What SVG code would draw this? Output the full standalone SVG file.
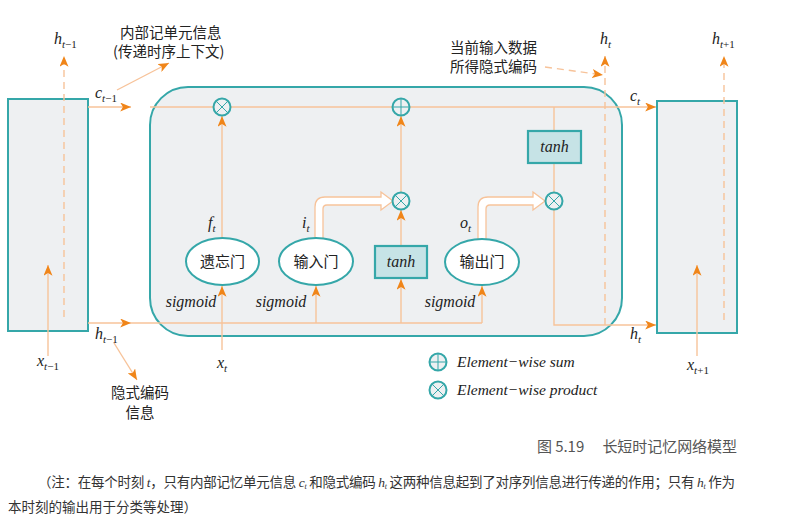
<svg xmlns="http://www.w3.org/2000/svg" width="798" height="524" viewBox="0 0 798 524">
<defs>
<marker id="ah" viewBox="0 0 12 10" refX="12" refY="5" markerWidth="11" markerHeight="9" orient="auto" markerUnits="userSpaceOnUse">
<path d="M0,0 L12,5 L0,10 L3,5 z" fill="#f08519"/>
</marker>
<style>
.box{fill:#eef0f2;stroke:#35a7a9;stroke-width:2}
.ln{fill:none;stroke:#f7c39a;stroke-width:1.4}
.dash{fill:none;stroke:#f7c39a;stroke-width:1.4;stroke-dasharray:7 5}
.hol{fill:#fff;stroke:#f7c39a;stroke-width:1.3}
.gate{fill:#fff;stroke:#35a7a9;stroke-width:2}
.tbox{fill:#c6e3e6;stroke:#35a7a9;stroke-width:2.2}
.op{fill:#eef0f2;stroke:#35a7a9;stroke-width:2}
.opx{stroke:#35a7a9;stroke-width:1}
.m{font-family:"Liberation Serif",serif;font-style:italic;font-size:16px;fill:#222}
.sub{font-size:11px}
.up{font-style:normal}
.cn{font-family:"Noto Sans CJK SC",sans-serif;font-size:14.5px;fill:#222}
.gt{font-family:"Noto Sans CJK SC",sans-serif;font-size:15px;fill:#222;text-anchor:middle}
.lg{font-family:"Liberation Serif",serif;font-style:italic;font-size:15.5px;fill:#222}
.note{font-family:"Noto Sans CJK SC",sans-serif;font-size:13.5px;fill:#333}
</style>
</defs>
<g id="cell-prev"><rect class="box" x="8" y="99" width="80" height="232"/></g>
<g id="cell-main"><rect class="box" x="150" y="87" width="472" height="249" rx="38"/></g>
<g id="cell-next"><rect class="box" x="657" y="101" width="80" height="232"/></g>
<g id="connectors">
<line class="ln" x1="88" y1="107" x2="131" y2="107" marker-end="url(#ah)"/>
<line class="ln" x1="150" y1="107" x2="656" y2="107" marker-end="url(#ah)"/>
<line class="ln" x1="88" y1="323" x2="131" y2="323" marker-end="url(#ah)"/>
<line class="ln" x1="131" y1="323" x2="482" y2="323"/>
<line class="ln" x1="316" y1="323" x2="316" y2="286" marker-end="url(#ah)"/>
<line class="ln" x1="401" y1="323" x2="401" y2="279" marker-end="url(#ah)"/>
<line class="ln" x1="482" y1="323" x2="482" y2="286" marker-end="url(#ah)"/>
<line class="ln" x1="222" y1="350" x2="222" y2="286" marker-end="url(#ah)"/>
<line class="ln" x1="222" y1="238" x2="222" y2="116" marker-end="url(#ah)"/>
<line class="ln" x1="401" y1="246" x2="401" y2="210" marker-end="url(#ah)"/>
<line class="ln" x1="401" y1="193" x2="401" y2="116" marker-end="url(#ah)"/>
<line class="ln" x1="554" y1="107" x2="554" y2="131"/>
<line class="ln" x1="554" y1="163" x2="554" y2="193"/>
<polyline class="ln" points="554,209 554,325 656,325" marker-end="url(#ah)"/>
<path class="hol" d="M315,238 V207 Q315,197 325,197 H381 V192 L393,201 L381,210 V205 H327 Q323,205 323,209 V238"/>
<path class="hol" d="M478,239 V207 Q478,197 488,197 H533 V192 L545,201 L533,210 V205 H490 Q486,205 486,209 V239"/>
<line class="dash" x1="64" y1="317" x2="64" y2="56" marker-end="url(#ah)"/>
<line class="dash" x1="605" y1="325" x2="605" y2="56" marker-end="url(#ah)"/>
<line class="dash" x1="724" y1="320" x2="724" y2="56" marker-end="url(#ah)"/>
<line class="dash" x1="545" y1="67" x2="603" y2="75" marker-end="url(#ah)"/>
<line class="ln" x1="117" y1="90" x2="169" y2="63" marker-end="url(#ah)"/>
<line class="ln" x1="114" y1="343" x2="137" y2="380" marker-end="url(#ah)"/>
<line class="ln" x1="48" y1="356" x2="48" y2="265" marker-end="url(#ah)"/>
<line class="ln" x1="697" y1="356" x2="697" y2="265" marker-end="url(#ah)"/>
</g>
<g id="op-mul-f"><circle class="op" cx="222" cy="107" r="8.5"/><path class="opx" d="M216,101 L228,113 M228,101 L216,113"/></g>
<g id="op-add"><circle class="op" cx="401" cy="107" r="8.5"/><path class="opx" d="M392.5,107 H409.5 M401,98.5 V115.5"/></g>
<g id="op-mul-i"><circle class="op" cx="401" cy="201" r="8.5"/><path class="opx" d="M395,195 L407,207 M407,195 L395,207"/></g>
<g id="op-mul-o"><circle class="op" cx="554" cy="201" r="8.5"/><path class="opx" d="M548,195 L560,207 M560,195 L548,207"/></g>
<g id="gate-forget"><ellipse class="gate" cx="222.5" cy="261.5" rx="36.5" ry="23.5"/><text class="gt" x="222.5" y="267">遗忘门</text></g>
<g id="gate-input"><ellipse class="gate" cx="316" cy="261.5" rx="37" ry="23.5"/><text class="gt" x="316" y="267">输入门</text></g>
<g id="tanh-mid"><rect class="tbox" x="375" y="246" width="52" height="32"/><text class="m" x="401" y="267" text-anchor="middle" font-size="15">tanh</text></g>
<g id="gate-output"><ellipse class="gate" cx="482" cy="262" rx="37" ry="23"/><text class="gt" x="482" y="267">输出门</text></g>
<g id="tanh-top"><rect class="tbox" x="528" y="131" width="53" height="32"/><text class="m" x="554.5" y="152" text-anchor="middle" font-size="15">tanh</text></g>
<g id="labels">
<text class="m" x="191" y="307" text-anchor="middle" font-size="15">sigmoid</text>
<text class="m" x="281" y="307" text-anchor="middle" font-size="15">sigmoid</text>
<text class="m" x="450" y="307" text-anchor="middle" font-size="15">sigmoid</text>
<text class="m" x="208" y="228">f<tspan class="sub" dy="4">t</tspan></text>
<text class="m" x="302" y="228">i<tspan class="sub" dy="4">t</tspan></text>
<text class="m" x="460" y="228">o<tspan class="sub" dy="4">t</tspan></text>
<text class="m" x="54" y="44">h<tspan class="sub" dy="4">t<tspan class="up">−1</tspan></tspan></text>
<text class="m" x="600" y="44">h<tspan class="sub" dy="4">t</tspan></text>
<text class="m" x="712" y="44">h<tspan class="sub" dy="4">t<tspan class="up">+1</tspan></tspan></text>
<text class="m" x="95" y="98">c<tspan class="sub" dy="4">t<tspan class="up">−1</tspan></tspan></text>
<text class="m" x="630" y="101">c<tspan class="sub" dy="4">t</tspan></text>
<text class="m" x="95" y="339">h<tspan class="sub" dy="4">t<tspan class="up">−1</tspan></tspan></text>
<text class="m" x="630" y="339">h<tspan class="sub" dy="4">t</tspan></text>
<text class="m" x="37" y="366">x<tspan class="sub" dy="4">t<tspan class="up">−1</tspan></tspan></text>
<text class="m" x="217" y="368">x<tspan class="sub" dy="4">t</tspan></text>
<text class="m" x="687" y="370">x<tspan class="sub" dy="4">t<tspan class="up">+1</tspan></tspan></text>
<text class="cn" x="120" y="38">内部记单元信息</text>
<text class="cn" x="113" y="57">(传递时序上下文)</text>
<text class="cn" x="450" y="53">当前输入数据</text>
<text class="cn" x="450" y="72">所得隐式编码</text>
<text class="cn" x="140" y="398" text-anchor="middle">隐式编码</text>
<text class="cn" x="140" y="418" text-anchor="middle">信息</text>
</g>
<g id="legend">
<circle class="op" cx="438" cy="362" r="8.5"/><path class="opx" d="M429.5,362 H446.5 M438,353.5 V370.5"/>
<text class="lg" x="457" y="367">Element−wise sum</text>
<circle class="op" cx="438" cy="390" r="8.5"/><path class="opx" d="M432,384 L444,396 M444,384 L432,396"/>
<text class="lg" x="457" y="395">Element−wise product</text>
</g>
<g id="caption">
<text x="537" y="452" font-family="Noto Sans CJK SC, sans-serif" font-size="15" fill="#555" textLength="200" lengthAdjust="spacing">图 5.19　 长短时记忆网络模型</text>
<text class="note" x="38" y="487" textLength="697" lengthAdjust="spacing">（注：在每个时刻 <tspan font-family="Liberation Serif" font-style="italic">t</tspan>，只有内部记忆单元信息 <tspan font-family="Liberation Serif" font-style="italic">c</tspan><tspan font-family="Liberation Serif" font-style="italic" font-size="8" dy="2">t</tspan><tspan dy="-2"> 和隐式编码 </tspan><tspan font-family="Liberation Serif" font-style="italic">h</tspan><tspan font-family="Liberation Serif" font-style="italic" font-size="8" dy="2">t</tspan><tspan dy="-2"> 这两种信息起到了对序列信息进行传递的作用；只有 </tspan><tspan font-family="Liberation Serif" font-style="italic">h</tspan><tspan font-family="Liberation Serif" font-style="italic" font-size="8" dy="2">t</tspan><tspan dy="-2"> 作为</tspan></text>
<text class="note" x="8" y="512">本时刻的输出用于分类等处理）</text>
</g>
</svg>
